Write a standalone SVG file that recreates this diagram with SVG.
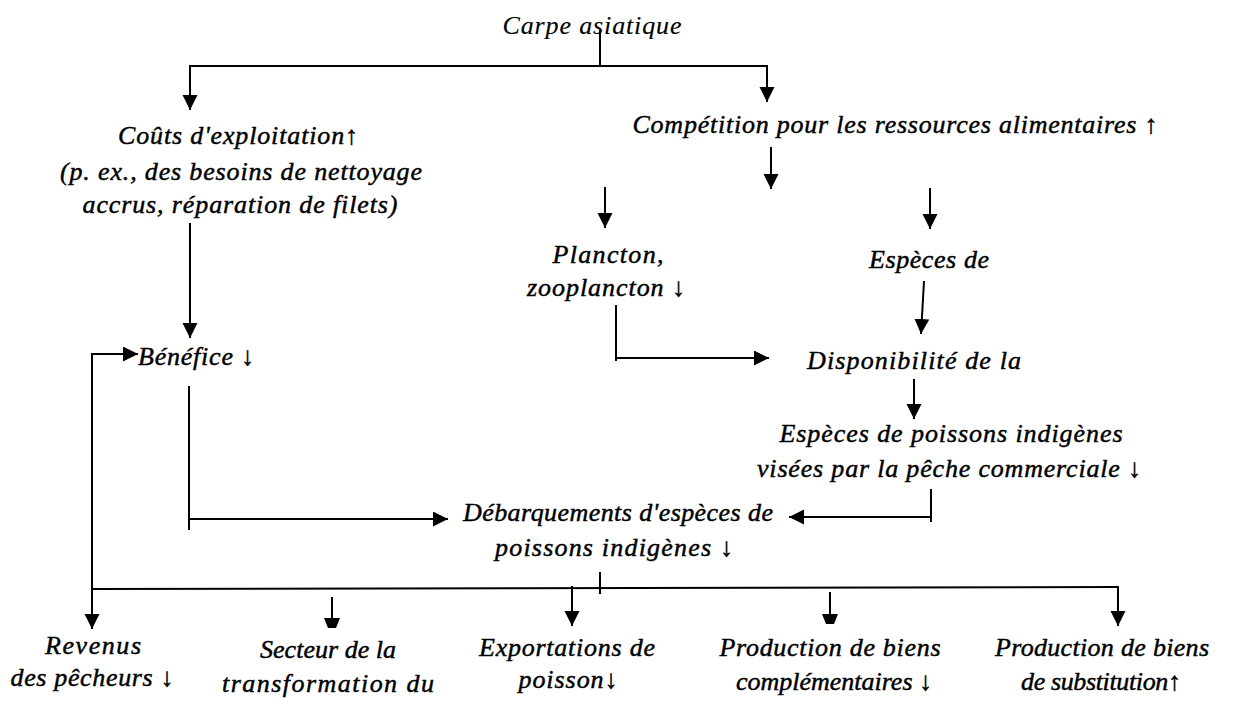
<svg xmlns="http://www.w3.org/2000/svg" width="1235" height="705" viewBox="0 0 1235 705">
  <defs>
    <marker id="head" markerUnits="userSpaceOnUse" markerWidth="16" markerHeight="17" refX="15" refY="7.5" orient="auto">
      <path d="M0,0 L15,7.5 L0,15 Z" fill="#000"/>
    </marker>
    <style>
      text { font-family: "Liberation Serif", "Times New Roman", serif; font-style: italic; font-size: 26px; fill: #000; stroke: #000; stroke-width: 0.45; text-anchor: middle; }
      text.light { stroke-width: 0.15; }
      .ln { fill: none; stroke: #000; stroke-width: 2; }
      .ar { fill: none; stroke: #000; stroke-width: 2; marker-end: url(#head); }
      .cut { fill: #000; }
    </style>
  </defs>
  <rect width="1235" height="705" fill="#fff"/>

  <!-- connectors -->
  <g id="connectors">
    <!-- Carpe asiatique split -->
    <path class="ln" d="M600,30 V67"/>
    <path class="ln" d="M189,66 H768"/>
    <path class="ar" d="M190,65 V110"/>
    <path class="ar" d="M767,65 V102"/>
    <!-- Coûts -> Bénéfice -->
    <path class="ar" d="M190,223 V338"/>
    <!-- Compétition branches -->
    <path class="ar" d="M771,147 V189"/>
    <path class="ar" d="M605,187 V228"/>
    <path class="ar" d="M930,188 V229"/>
    <!-- Espèces de -> Disponibilité -->
    <path class="ar" d="M924,281 L921,334"/>
    <!-- Plancton -> Disponibilité -->
    <path class="ln" d="M616,305 V361"/>
    <path class="ar" d="M615,358 H769"/>
    <!-- Disponibilité -> Espèces indigènes -->
    <path class="ar" d="M914,379 V419"/>
    <!-- Espèces indigènes -> Débarquements -->
    <path class="ln" d="M931,489 V522"/>
    <path class="ar" d="M932,517 H789"/>
    <!-- Bénéfice -> Débarquements -->
    <path class="ln" d="M189,386 V530"/>
    <path class="ar" d="M188,519 H448"/>
    <!-- Débarquements split -->
    <path class="ln" d="M600,572 V594"/>
    <path class="ln" d="M91,589 L1119,587"/>
    <path class="ar" d="M1118,586 V626"/>
    <path class="ar" d="M572,586 V626"/>
    <!-- feedback to Bénéfice and Revenus -->
    <path class="ar" d="M92,355 V629"/>
    <path class="ar" d="M91,354 H138"/>
    <!-- short arrows with clipped heads -->
    <path class="ln" d="M332,597 V619"/>
    <polygon class="cut" points="324,618 340,618 336,628 328,628"/>
    <path class="ln" d="M830,592 V615"/>
    <polygon class="cut" points="822,614 838,614 834,624 826,624"/>
  </g>

  <g id="carpe"><text class="light" x="592" y="34" textLength="179">Carpe asiatique</text></g>

  <g id="couts">
    <text x="238" y="144" textLength="240">Coûts d'exploitation↑</text>
    <text x="241" y="180" textLength="362">(p. ex., des besoins de nettoyage</text>
    <text x="240" y="213" textLength="315">accrus, réparation de filets)</text>
  </g>

  <g id="competition"><text x="895" y="133" textLength="525">Compétition pour les ressources alimentaires ↑</text></g>

  <g id="plancton">
    <text x="608" y="263" textLength="111">Plancton,</text>
    <text x="606" y="296" textLength="158">zooplancton ↓</text>
  </g>

  <g id="especes"><text x="929" y="268" textLength="120">Espèces de</text></g>

  <g id="disponibilite"><text x="914" y="369" textLength="214">Disponibilité de la</text></g>

  <g id="especes-indigenes">
    <text x="951" y="442" textLength="343">Espèces de poissons indigènes</text>
    <text x="949" y="477" textLength="384">visées par la pêche commerciale ↓</text>
  </g>

  <g id="benefice"><text x="196" y="365" textLength="116">Bénéfice ↓</text></g>

  <g id="debarquements">
    <text x="618" y="521" textLength="310">Débarquements d'espèces de</text>
    <text x="614" y="556" textLength="238">poissons indigènes ↓</text>
  </g>

  <g id="revenus">
    <text x="93" y="654" textLength="96">Revenus</text>
    <text x="92" y="686" textLength="163">des pêcheurs ↓</text>
  </g>

  <g id="secteur">
    <text x="328" y="658" textLength="136">Secteur de la</text>
    <text x="328" y="692" textLength="212">transformation du</text>
  </g>

  <g id="exportations">
    <text x="567" y="656" textLength="176">Exportations de</text>
    <text x="568" y="688" textLength="99">poisson↓</text>
  </g>

  <g id="complementaires">
    <text x="830" y="656" textLength="221">Production de biens</text>
    <text x="834" y="690" textLength="196">complémentaires ↓</text>
  </g>

  <g id="substitution">
    <text x="1102" y="656" textLength="214">Production de biens</text>
    <text x="1101" y="690" textLength="160">de substitution↑</text>
  </g>
</svg>
